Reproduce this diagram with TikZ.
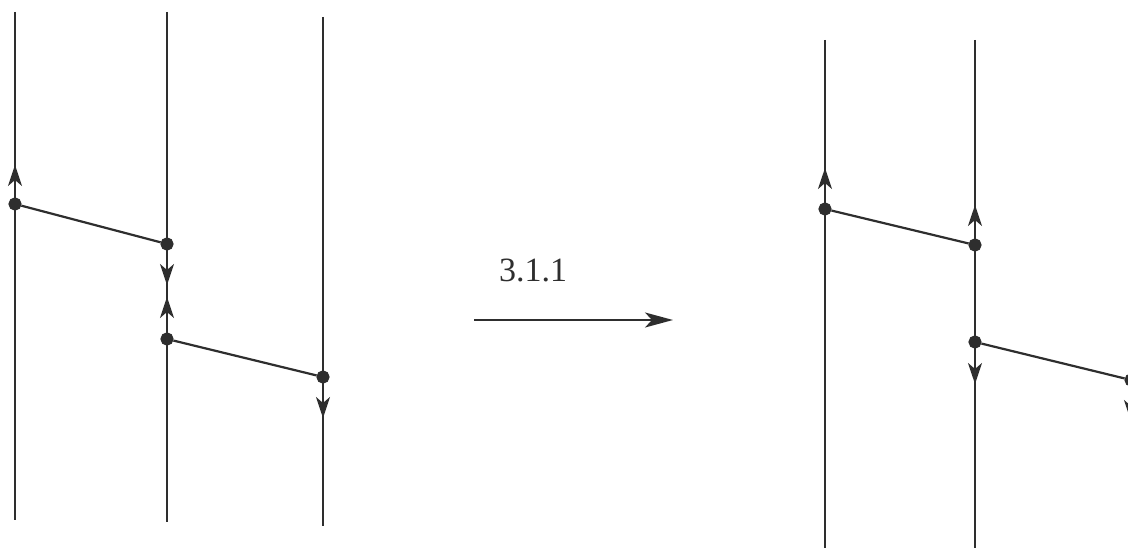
\documentclass[tikz,border=0pt]{standalone}
\usepackage{fontspec}
\setmainfont{Liberation Serif}
\usepackage{tikz}
\usetikzlibrary{arrows.meta}
\definecolor{strandInk}{HTML}{2E2E2E}

\begin{document}
\begin{tikzpicture}[x=1pt,y=-1pt, line width=2.2pt, color=strandInk,
    dot/.style={circle, fill=strandInk, draw=strandInk, inner sep=0pt, minimum size=11pt},
    flow/.style={-{Stealth[length=21pt,width=14pt,inset=6pt]}},
    move/.style={-{Stealth[length=28pt,width=15pt,inset=7pt]}}]
    \useasboundingbox (0,0) rectangle (1128,548);
    \clip (0,0) rectangle (1128,548);
    % left picture
    \coordinate (l1t) at (15,12);   \coordinate (l1b) at (15,520);
    \coordinate (l2t) at (167,12);  \coordinate (l2b) at (167,522);
    \coordinate (l3t) at (323,17);  \coordinate (l3b) at (323,526);
    \draw (l1t) -- (l1b);
    \draw (l2t) -- (l2b);
    \draw (l3t) -- (l3b);
    \node[dot] (la) at (15,204) {};
    \node[dot] (lb) at (167,244) {};
    \node[dot] (lc) at (167,339) {};
    \node[dot] (ld) at (323,377) {};
    \coordinate (la up) at (15,165);
    \coordinate (lb down) at (167,285);
    \coordinate (lc up) at (167,297);
    \coordinate (ld down) at (323,418);
    \draw[flow] (la) -- (la up);
    \draw[flow] (lb) -- (lb down);
    \draw[flow] (lc) -- (lc up);
    \draw[flow] (ld) -- (ld down);
    \draw (la) -- (lb);
    \draw (lc) -- (ld);
    % the move
    \coordinate (mv start) at (474,320);
    \coordinate (mv end) at (673,320);
    \draw[move] (mv start) -- (mv end);
    \node[font=\fontsize{34}{38}\selectfont] (mv label) at (533,270) {3.1.1};
    % right picture
    \coordinate (r1t) at (825,40);   \coordinate (r1b) at (825,548);
    \coordinate (r2t) at (975,40);   \coordinate (r2b) at (975,548);
    \coordinate (r3t) at (1132,40);  \coordinate (r3b) at (1132,548);
    \draw (r1t) -- (r1b);
    \draw (r2t) -- (r2b);
    \draw (r3t) -- (r3b);
    \node[dot] (ra) at (825,209) {};
    \node[dot] (rb) at (975,245) {};
    \node[dot] (rc) at (975,342) {};
    \node[dot] (rd) at (1131,380) {};
    \coordinate (ra up) at (825,168);
    \coordinate (rb up) at (975,205);
    \coordinate (rc down) at (975,384);
    \coordinate (rd down) at (1131,421);
    \draw[flow] (ra) -- (ra up);
    \draw[flow] (rb) -- (rb up);
    \draw[flow] (rc) -- (rc down);
    \draw[flow] (rd) -- (rd down);
    \draw (ra) -- (rb);
    \draw (rc) -- (rd);
\end{tikzpicture}
\end{document}
